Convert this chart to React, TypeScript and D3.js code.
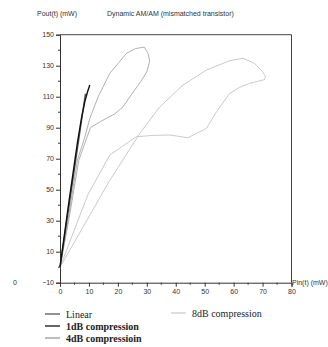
import React, { useEffect, useRef } from 'react';
import * as d3 from 'd3';

// values
const linearX = [0, 8.8];
const linearY = [0, 112];

const oneDbX = [0, 3, 6, 7.5, 8.6, 9.5, 10.3];
const oneDbY = [0, 41, 80, 97, 107, 113, 117.5];

const fourDbX = [0, 3, 6.5, 10.5, 14, 19, 21.8, 25.3, 28, 30, 31, 30.4, 29.1, 26, 23, 17.2, 13.2, 10.3, 8.6, 6, 2.5, 0];
const fourDbY = [0, 30, 69, 90, 94, 99, 103.5, 113, 120, 126, 133, 138, 142, 141, 138, 125, 110, 96, 84, 69, 27, 0];

const eightDbX = [0, 9.6, 17.2, 26.4, 32, 38, 44.2, 50.6, 54, 58.6, 62, 65.5, 70.7, 71, 70.1, 67.2, 63.2, 58.6, 50.6, 42.5, 34.5, 27.6, 17.2, 0];
const eightDbY = [0, 46.6, 72.4, 84.2, 85, 85.3, 83.5, 89.6, 100, 112, 116, 118.6, 121, 123, 126, 131.5, 134.8, 133.2, 127.2, 117.5, 103.5, 86.4, 56, 0];

const yTicks = [-10, 10, 30, 50, 70, 90, 110, 130, 150];
const xTicks = [0, 10, 20, 30, 40, 50, 60, 70, 80];

const seriesNames = ['Linear', '1dB compression', '4dB compressioin', '8dB compression'];

const App: React.FC = () => {
  const svgRef = useRef<SVGSVGElement>(null);

  useEffect(() => {
    if (!svgRef.current) return;
    document.body.style.margin = '0';
    const svg = d3.select(svgRef.current);
    svg.selectAll('*').remove();

    const left = 60, right = 291.5, top = 34.7, bottom = 282.7;
    const x = d3.scaleLinear().domain([0, 80]).range([left, right]);
    const y = d3.scaleLinear().domain([-10, 150]).range([bottom, top]);

    const font = '"Liberation Sans", Arial, sans-serif';
    const serif = '"Liberation Serif", "Times New Roman", serif';

    // frame
    svg.append('path')
      .attr('d', `M${left},${top}H${right}V${bottom}`)
      .attr('fill', 'none')
      .attr('stroke', '#444')
      .attr('stroke-width', 1);

    // left axis
    const yAxis = svg.append('g')
      .attr('transform', `translate(${left},0)`)
      .call(d3.axisLeft(y).tickValues(yTicks).tickSize(4).tickPadding(2));
    yAxis.select('.domain').attr('stroke', '#333');
    yAxis.selectAll('line').attr('stroke', '#333');
    yAxis.selectAll('text').style('font-family', font).style('font-size', '7px').attr('fill', '#333');
    yAxis.selectAll('.minor')
      .data(d3.range(0, 150, 20))
      .enter().append('line')
      .attr('x1', -2).attr('x2', 0)
      .attr('y1', d => y(d)).attr('y2', d => y(d))
      .attr('stroke', '#333');

    // bottom axis
    const xAxis = svg.append('g')
      .attr('transform', `translate(0,${bottom})`)
      .call(d3.axisBottom(x).tickValues(xTicks).tickSize(4).tickPadding(2));
    xAxis.select('.domain').attr('stroke', '#333');
    xAxis.selectAll('line').attr('stroke', '#333');
    xAxis.selectAll('text').style('font-family', font).style('font-size', '7px').attr('fill', '#333');
    xAxis.selectAll('.minor')
      .data(d3.range(5, 80, 10))
      .enter().append('line')
      .attr('y1', 0).attr('y2', 2)
      .attr('x1', d => x(d)).attr('x2', d => x(d))
      .attr('stroke', '#333');

    // labels
    svg.append('text').attr('x', 37).attr('y', 16)
      .style('font-family', font).style('font-size', '7px').attr('fill', '#333')
      .text('Pout(t) (mW)');
    svg.append('text').attr('x', 107).attr('y', 16)
      .style('font-family', font).style('font-size', '7px').attr('fill', '#333')
      .text('Dynamic AM/AM (mismatched transistor)');
    svg.append('text').attr('x', 292).attr('y', 285)
      .style('font-family', font).style('font-size', '7px').attr('fill', '#333')
      .text('Pin(t) (mW)');
    svg.append('text').attr('x', 13).attr('y', 285)
      .style('font-family', font).style('font-size', '7px').attr('fill', '#333')
      .text('0');

    const line = d3.line<[number, number]>()
      .x(d => x(d[0]))
      .y(d => y(d[1]))
      .curve(d3.curveLinear);

    const zip = (xs: number[], ys: number[]) => xs.map((v, i) => [v, ys[i]] as [number, number]);

    const series = [
      { pts: zip(eightDbX, eightDbY), color: '#c4c4c4', w: 0.9 },
      { pts: zip(fourDbX, fourDbY), color: '#a8a8a8', w: 0.9 },
      { pts: zip(linearX, linearY), color: '#555', w: 1.4 },
      { pts: zip(oneDbX, oneDbY), color: '#111', w: 1.4 },
    ];

    svg.selectAll('.series')
      .data(series)
      .enter()
      .append('path')
      .attr('class', 'series')
      .attr('d', d => line(d.pts))
      .attr('fill', 'none')
      .attr('stroke', d => d.color)
      .attr('stroke-width', d => d.w)
      .attr('stroke-linejoin', 'round');

    // legend
    const legend = [
      { name: seriesNames[0], color: '#555', x: 45, y: 315, bold: false },
      { name: seriesNames[1], color: '#111', x: 45, y: 327, bold: true },
      { name: seriesNames[2], color: '#999', x: 45, y: 339, bold: true },
      { name: seriesNames[3], color: '#ccc', x: 171, y: 314, bold: false },
    ];
    const lg = svg.selectAll('.legend')
      .data(legend)
      .enter()
      .append('g')
      .attr('class', 'legend');
    lg.append('line')
      .attr('x1', d => d.x).attr('x2', d => d.x + 15)
      .attr('y1', d => d.y - 1).attr('y2', d => d.y - 1)
      .attr('stroke', d => d.color)
      .attr('stroke-width', 1.3);
    lg.append('text')
      .attr('x', d => d.x + 21)
      .attr('y', d => d.y + 3)
      .style('font-family', serif)
      .style('font-size', '10px')
      .style('font-weight', d => (d.bold ? 'bold' : 'normal'))
      .attr('fill', '#222')
      .text(d => d.name);
  }, []);

  return <svg ref={svgRef} width={328} height={347} style={{ display: 'block' }}></svg>;
};

export default App;
